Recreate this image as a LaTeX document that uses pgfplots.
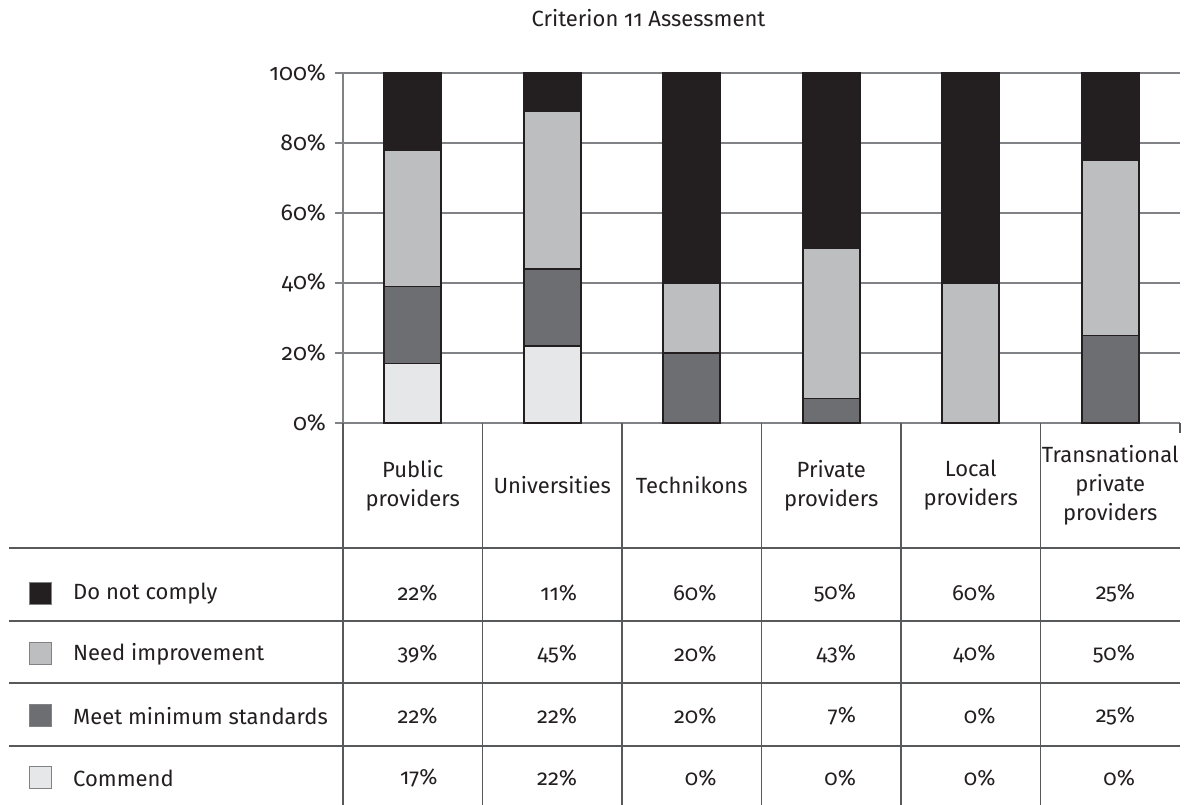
\documentclass[border=0pt]{standalone}
\usepackage{fontspec}
\setmainfont{Fira Sans}[Numbers=OldStyle]
\usepackage{pgfplots}
\pgfplotsset{compat=1.18}
\usepackage{pgfplotstable}

\definecolor{cDnc}{HTML}{231F20}
\definecolor{cNeed}{HTML}{BCBEC0}
\definecolor{cMeet}{HTML}{6D6E71}
\definecolor{cCom}{HTML}{E6E7E8}
\definecolor{gridc}{HTML}{808285}
\definecolor{tablec}{HTML}{58595B}

\pgfplotstableread{
cat commend meet need dnc
0 17 22 39 22
1 22 22 45 11
2 0 20 20 60
3 0 7 43 50
4 0 0 40 60
5 0 25 50 25
}\data

\begin{document}
\begin{tikzpicture}[font=\fontsize{11}{14.5}\selectfont]
\begin{axis}[
  scale only axis, width=418.5pt, height=175pt,
  xmin=0, xmax=6, ymin=0, ymax=100,
  ybar stacked, bar width=28.5pt,
  axis x line=none, axis y line*=left,
  axis line style={draw=gridc, line width=0.7pt},
  ytick={0,20,...,100},
  yticklabel={\pgfmathprintnumber{\tick}\%},
  /pgf/number format/assume math mode=true,
  tick align=outside, major tick length=4pt,
  tick style={draw=gridc, line width=0.7pt},
  ymajorgrids, grid style={draw=gridc, line width=0.7pt},
  yticklabel style={xshift=-1pt, text=cDnc, font=\fontsize{11.5}{14}\selectfont},
  clip=false,
]
\addplot[fill=cCom, draw=cDnc, line width=0.9pt] table[x expr=\coordindex+0.5, y=commend]{\data};
\addplot[fill=cMeet, draw=cDnc, line width=0.9pt] table[x expr=\coordindex+0.5, y=meet]{\data};
\addplot[fill=cNeed, draw=cDnc, line width=0.9pt] table[x expr=\coordindex+0.5, y=need]{\data};
\addplot[fill=cDnc, draw=cDnc, line width=0.9pt] table[x expr=\coordindex+0.5, y=dnc]{\data};
\coordinate (O) at (axis cs:0,0);
\end{axis}
\begin{scope}[shift={(O)}, x=69.75pt, y=1.75pt]
  % title
  \node[text=cDnc] at (2.19,115.7) {Criterion 11 Assessment};
  % vertical table lines
  \foreach \i in {0,...,5} {\draw[tablec, line width=0.7pt] (\i,0) -- (\i,-109.14);}
  \draw[tablec, line width=0.7pt] (6,0) -- (6,-2.9);
  % horizontal table lines
  \foreach \yy in {-35.71,-56.57,-74.29,-92.29} {\draw[tablec, line width=0.7pt] (-2.394,\yy) -- (6,\yy);}
  % headers
  \foreach \i/\t in {0/{Public\\providers},1/{Universities},2/{Technikons},3/{Private\\providers},4/{Local\\providers},5/{Transnational\\private\\providers}}
    {\node[align=center, text=cDnc, inner sep=0pt] at (\i+0.5,-17.86) {\t};}
  % row labels and swatches
  \foreach \c/\lab/\yy in {cDnc/Do not comply/-48.6, cNeed/Need improvement/-66.0, cMeet/Meet minimum standards/-83.7, cCom/Commend/-101.4}
  {
    \node[draw=gridc, line width=0.5pt, fill=\c, minimum size=11pt, inner sep=0pt] at (-2.17,\yy) {};
    \node[anchor=west, text=cDnc, inner sep=0pt] at (-1.937,\yy) {\lab};
  }
  % values
  \foreach \col/\yy in {dnc/-48.6, need/-66.0, meet/-83.7, commend/-101.4}
  {
    \foreach \r in {0,...,5}
    {
      \pgfplotstablegetelem{\r}{\col}\of\data
      \node[anchor=east, text=cDnc, inner sep=0pt] at (\r+0.68,\yy) {\pgfplotsretval\%};
    }
  }
  \pgfresetboundingbox
  \path[use as bounding box] (-2.459,-109.14) rectangle (6.036,120.86);
\end{scope}
\end{tikzpicture}
\end{document}
